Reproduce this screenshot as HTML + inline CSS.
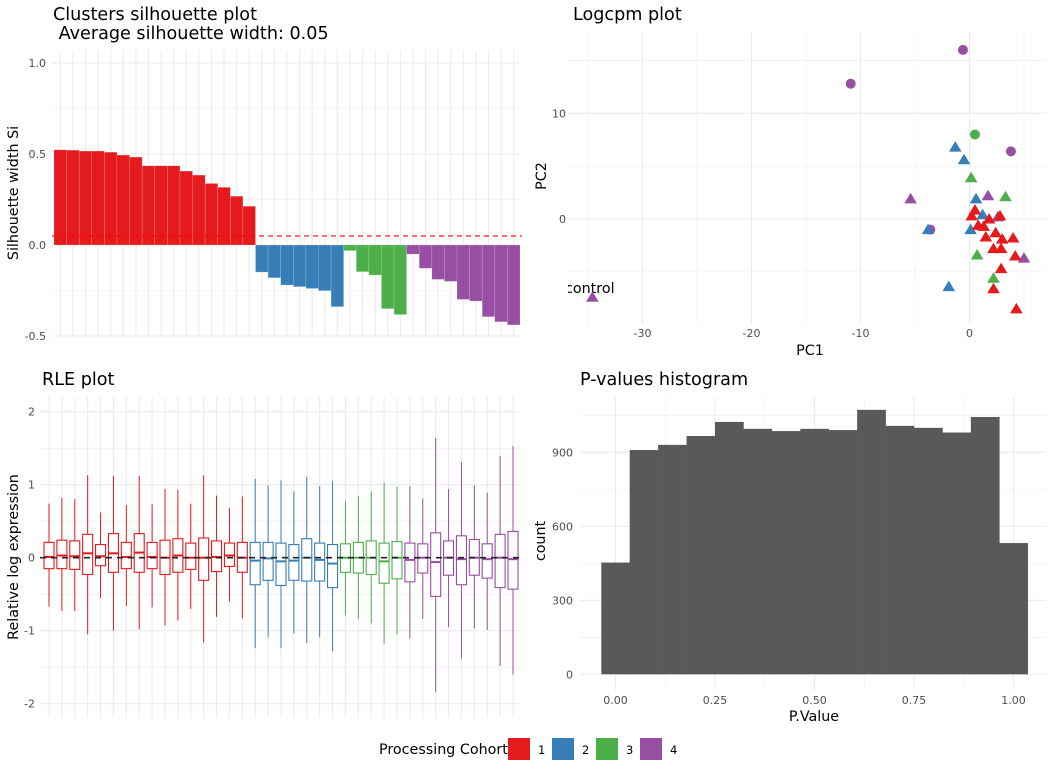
<!DOCTYPE html>
<html><head><meta charset="utf-8"><style>
html,body{margin:0;padding:0;background:#fff}
svg{display:block;font-family:"DejaVu Sans","Liberation Sans",sans-serif}
.tick{font-size:11px;fill:#4d4d4d}
.ttl{font-size:17.6px;fill:#000}
.ax{font-size:14.3px;fill:#000}
</style></head><body>
<svg id="root" width="1056" height="768" viewBox="0 0 1056 768" xmlns="http://www.w3.org/2000/svg">
<defs><clipPath id="pcaclip"><rect x="568" y="30" width="480" height="296"/></clipPath></defs>
<g id="sil"></g>
<g id="pca"></g>
<g id="rle"></g>
<g id="hist"></g>
<g id="legend"></g>
</svg>
<script>
// ---------- data ----------
const cohortColors = ["#E41A1C","#377EB8","#4DAF4A","#984EA3"];
const silCluster = [1,1,1,1,1,1,1,1,1,1,1,1,1,1,1,1,2,2,2,2,2,2,2,3,3,3,3,3,4,4,4,4,4,4,4,4,4];
const silValues = [0.523,0.521,0.516,0.516,0.51,0.494,0.483,0.435,0.435,0.435,0.406,0.384,0.338,0.317,0.268,0.213,
 -0.149,-0.18,-0.22,-0.229,-0.239,-0.251,-0.339,
 -0.031,-0.147,-0.165,-0.35,-0.382,
 -0.05,-0.128,-0.189,-0.2,-0.299,-0.308,-0.394,-0.422,-0.439];
const silAverage = 0.05;
const silTicks = [-0.5,0,0.5,1.0];
const silTickLabels = ["-0.5","0.0","0.5","1.0"];

const pcaX = [-0.6,-10.9,3.8,0.5,-3.6,
 -1.3,-0.5,0.6,1.2,0.1,-3.8,-1.9,
 0.15,3.3,0.7,2.2,
 -5.4,1.7,2.6,5.0,-34.6,
 0.5,0.2,1.8,2.8,0.8,1.3,2.4,1.5,3.0,4.0,2.2,2.9,4.2,2.9,2.2,4.3];
const pcaY = [16.0,12.8,6.4,8.0,-1.0,
 6.8,5.6,1.9,0.4,-1.0,-1.0,-6.4,
 3.9,2.1,-3.4,-5.6,
 1.9,2.2,0.2,-3.7,-7.4,
 0.85,0.3,0,0.3,-0.6,-0.7,-1.3,-1.7,-1.9,-1.8,-2.8,-2.8,-3.5,-4.7,-6.6,-8.5];
const pcaCohort = [4,4,4,3,4, 2,2,2,2,2,2,2, 3,3,3,3, 4,4,4,4,4, 1,1,1,1,1,1,1,1,1,1,1,1,1,1,1,1];
const pcaShape = ["circle","circle","circle","circle","circle",
 "tri","tri","tri","tri","tri","tri","tri","tri","tri","tri","tri","tri","tri","tri","tri","tri",
 "tri","tri","tri","tri","tri","tri","tri","tri","tri","tri","tri","tri","tri","tri","tri","tri"];
const pcaXTicks = [-30,-20,-10,0];
const pcaYTicks = [0,10];

const rleCohort = [1,1,1,1,1,1,1,1,1,1,1,1,1,1,1,1,2,2,2,2,2,2,2,3,3,3,3,3,4,4,4,4,4,4,4,4,4];
const rleQ1 = [-0.15,-0.15,-0.16,-0.23,-0.11,-0.2,-0.15,-0.2,-0.15,-0.23,-0.2,-0.16,-0.31,-0.19,-0.12,-0.2,
 -0.37,-0.31,-0.38,-0.31,-0.32,-0.32,-0.41,-0.2,-0.21,-0.23,-0.35,-0.29,-0.33,-0.21,-0.53,-0.24,-0.37,-0.24,-0.28,-0.41,-0.43];
const rleMed = [0.01,0.03,0.02,0.06,0.02,0.06,0.01,0.07,0.01,0,0.03,0,0,0.01,0.03,0,
 -0.04,-0.01,-0.05,-0.04,0,-0.03,-0.08,0,0,0,-0.05,0,-0.03,0,-0.06,0,-0.02,0,-0.02,0,-0.02];
const rleQ3 = [0.21,0.24,0.23,0.32,0.18,0.33,0.21,0.33,0.21,0.24,0.26,0.2,0.27,0.23,0.2,0.21,
 0.21,0.21,0.2,0.18,0.26,0.2,0.18,0.19,0.21,0.23,0.2,0.22,0.2,0.19,0.34,0.23,0.3,0.25,0.19,0.32,0.36];
const rleLo = [-0.67,-0.73,-0.73,-1.05,-0.55,-1.0,-0.66,-0.98,-0.68,-0.93,-0.86,-0.7,-1.16,-0.81,-0.6,-0.83,
 -1.24,-1.09,-1.24,-1.04,-1.17,-1.09,-1.28,-0.79,-0.84,-0.9,-1.18,-1.05,-1.11,-0.84,-1.84,-0.95,-1.38,-0.97,-0.99,-1.48,-1.6];
const rleHi = [0.74,0.82,0.8,1.13,0.62,1.12,0.72,1.12,0.73,0.94,0.93,0.74,1.13,0.85,0.68,0.84,
 1.08,0.99,1.06,0.91,1.11,0.98,1.05,0.78,0.84,0.91,1.03,0.97,0.98,0.81,1.64,0.94,1.31,0.99,0.89,1.39,1.53];
const rleTicks = [-2,-1,0,1,2];

const histCounts = [453,909,930,966,1023,995,986,995,990,1072,1007,999,980,1043,532];
const histBinWidth = 1/14;
const histXTicks = [0,0.25,0.5,0.75,1.0];
const histXLabels = ["0.00","0.25","0.50","0.75","1.00"];
const histYTicks = [0,300,600,900];

const legendLabels = ["1","2","3","4"];

// ---------- helpers ----------
const NS="http://www.w3.org/2000/svg";
function mk(parent,tag,attrs,text){const e=document.createElementNS(NS,tag);for(const k in attrs)e.setAttribute(k,attrs[k]);if(text!==undefined)e.textContent=text;parent.appendChild(e);return e;}
function grid(g,x1,y1,x2,y2,major){const l=mk(g,"line",{x1,y1,x2,y2,stroke:"#ebebeb","stroke-width":major?1.1:0.55});

return l;}

// ---------- silhouette ----------
(function(){
 const g=document.getElementById("sil");
 const n=silValues.length, x0=54, x1=520, bw=(x1-x0)/n;
 const y=v=>245-v*182;
 const bx=i=>x0+i*bw;
 [0.75,0.25,-0.25].forEach(v=>grid(g,52,y(v),520,y(v),false));
 silTicks.forEach(v=>grid(g,52,y(v),520,y(v),true));
 for(let i=0;i<n;i++)grid(g,bx(i)+bw/2,50,bx(i)+bw/2,337,true);
 silTicks.forEach((v,i)=>{const t=mk(g,"text",{x:46,y:y(v)+4,"text-anchor":"end",class:"tick"},silTickLabels[i]);
  
  });
 for(let i=0;i<n;i++){const v=silValues[i];
  const r=mk(g,"rect",{x:bx(i),y:Math.min(y(v),y(0)),width:bw,height:Math.abs(y(v)-y(0)),fill:cohortColors[silCluster[i]-1],stroke:"rgba(255,255,255,0.25)","stroke-width":0.6});
  
  }
 const al=mk(g,"line",{x1:52,x2:522,y1:y(silAverage),y2:y(silAverage),stroke:"#ff0000","stroke-width":1.1,"stroke-dasharray":"5,4"});
 
 
 const yt=mk(g,"text",{x:0,y:0,class:"ax",transform:"translate(18,193) rotate(-90)","text-anchor":"middle"},"Silhouette width Si");
 
 
 const t1=mk(g,"text",{x:53,y:20,class:"ttl"},"Clusters silhouette plot");
 
 
 const t2=mk(g,"text",{x:53,y:39,class:"ttl","xml:space":"preserve"},"\u00a0Average silhouette width: 0.05");
 
 
})();

// ---------- PCA ----------
(function(){
 const g=document.getElementById("pca");
 const x=v=>969.5+v*10.9, y=v=>219-v*10.57;
 const L=568,R=1046,T=32,B=324;
 [-35,-25,-15,-5,5].forEach(v=>grid(g,x(v),T,x(v),B,false));
 [15,5,-5].forEach(v=>grid(g,L,y(v),R,y(v),false));
 pcaXTicks.forEach(v=>grid(g,x(v),T,x(v),B,true));
 pcaYTicks.forEach(v=>grid(g,L,y(v),R,y(v),true));
 pcaXTicks.forEach(v=>{const t=mk(g,"text",{x:x(v),y:337,"text-anchor":"middle",class:"tick"},String(v));
  
  });
 pcaYTicks.forEach(v=>{const t=mk(g,"text",{x:566,y:y(v)+4,"text-anchor":"end",class:"tick"},String(v));
  
  });
 const lab=mk(g,"text",{x:565,y:293,class:"ax","clip-path":"url(#pcaclip)"},"control");
 
 
 for(let i=0;i<pcaX.length;i++){const cx=x(pcaX[i]),cy=y(pcaY[i]),c=cohortColors[pcaCohort[i]-1];let m;
  if(pcaShape[i]==="circle")m=mk(g,"circle",{cx,cy,r:5,fill:c});
  else m=mk(g,"polygon",{points:`${cx},${cy-6} ${cx+6.3},${cy+4.5} ${cx-6.3},${cy+4.5}`,fill:c});
  
  }
 const xt=mk(g,"text",{x:810,y:355,"text-anchor":"middle",class:"ax"},"PC1");
 
 
 const yt=mk(g,"text",{x:0,y:0,class:"ax",transform:"translate(546,176) rotate(-90)","text-anchor":"middle"},"PC2");
 
 
 const t=mk(g,"text",{x:573,y:20,class:"ttl"},"Logcpm plot");
 
 
})();

// ---------- RLE ----------
(function(){
 const g=document.getElementById("rle");
 const n=rleQ1.length, cx=i=>49+i*(513-49)/(n-1), y=v=>557.7-v*73;
 const L=40,R=520,T=397,B=718;
 [1.5,0.5,-0.5,-1.5].forEach(v=>grid(g,L,y(v),R,y(v),false));
 rleTicks.forEach(v=>grid(g,L,y(v),R,y(v),true));
 for(let i=0;i<n;i++)grid(g,cx(i),T,cx(i),B,true);
 rleTicks.forEach(v=>{const t=mk(g,"text",{x:35,y:y(v)+4,"text-anchor":"end",class:"tick"},String(v));
  
  });
 for(let i=0;i<n;i++){const c=cohortColors[rleCohort[i]-1],x=cx(i),w=10;
  const bg=mk(g,"g",{});
  
  
  mk(bg,"line",{x1:x,x2:x,y1:y(rleHi[i]),y2:y(rleQ3[i]),stroke:c,"stroke-width":1});
  mk(bg,"line",{x1:x,x2:x,y1:y(rleQ1[i]),y2:y(rleLo[i]),stroke:c,"stroke-width":1});
  mk(bg,"rect",{x:x-w/2,y:y(rleQ3[i]),width:w,height:y(rleQ1[i])-y(rleQ3[i]),fill:"#fff",stroke:c,"stroke-width":1.1});
  mk(bg,"line",{x1:x-w/2,x2:x+w/2,y1:y(rleMed[i]),y2:y(rleMed[i]),stroke:c,"stroke-width":2});}
 const zl=mk(g,"line",{x1:L,x2:522,y1:y(0),y2:y(0),stroke:"#222","stroke-width":1.6,"stroke-dasharray":"6,5"});
 
 
 const yt=mk(g,"text",{x:0,y:0,class:"ax",transform:"translate(18,557) rotate(-90)","text-anchor":"middle"},"Relative log expression");
 
 
 const t=mk(g,"text",{x:42,y:385,class:"ttl"},"RLE plot");
 
 
})();

// ---------- histogram ----------
(function(){
 const g=document.getElementById("hist");
 const x=v=>615.5+v*398, y=v=>674.3-v*0.2467;
 const L=580,R=1046,T=397,B=690;
 [150,450,750,1050].forEach(v=>grid(g,L,y(v),R,y(v),false));
 [0.125,0.375,0.625,0.875].forEach(v=>grid(g,x(v),T,x(v),B,false));
 histYTicks.forEach(v=>grid(g,L,y(v),R,y(v),true));
 histXTicks.forEach(v=>grid(g,x(v),T,x(v),B,true));
 for(let i=0;i<histCounts.length;i++){const a=-histBinWidth/2+i*histBinWidth;
  const r=mk(g,"rect",{x:x(a),y:y(histCounts[i]),width:x(a+histBinWidth)-x(a)+0.3,height:y(0)-y(histCounts[i]),fill:"#595959"});
  
  }
 histYTicks.forEach(v=>{const t=mk(g,"text",{x:573,y:y(v)+4,"text-anchor":"end",class:"tick"},String(v));
  
  });
 histXTicks.forEach((v,i)=>{const t=mk(g,"text",{x:x(v),y:704,"text-anchor":"middle",class:"tick"},histXLabels[i]);
  
  });
 const xt=mk(g,"text",{x:814,y:721,"text-anchor":"middle",class:"ax"},"P.Value");
 
 
 const yt=mk(g,"text",{x:0,y:0,class:"ax",transform:"translate(545,541) rotate(-90)","text-anchor":"middle"},"count");
 
 
 const t=mk(g,"text",{x:580,y:385,class:"ttl"},"P-values histogram");
 
 
})();

// ---------- legend ----------
(function(){
 const g=document.getElementById("legend");
 const lt=mk(g,"text",{x:379,y:754,style:"font-size:14.3px;fill:#000"},"Processing Cohort");
 
 
 legendLabels.forEach((lab,i)=>{const kx=508+i*44;
  const e=mk(g,"g",{});
  
  
  mk(e,"rect",{x:kx,y:738,width:22,height:22,fill:cohortColors[i]});
  mk(e,"text",{x:kx+30,y:754,style:"font-size:11.5px;fill:#000"},lab);});
})();
</script>
</body></html>
